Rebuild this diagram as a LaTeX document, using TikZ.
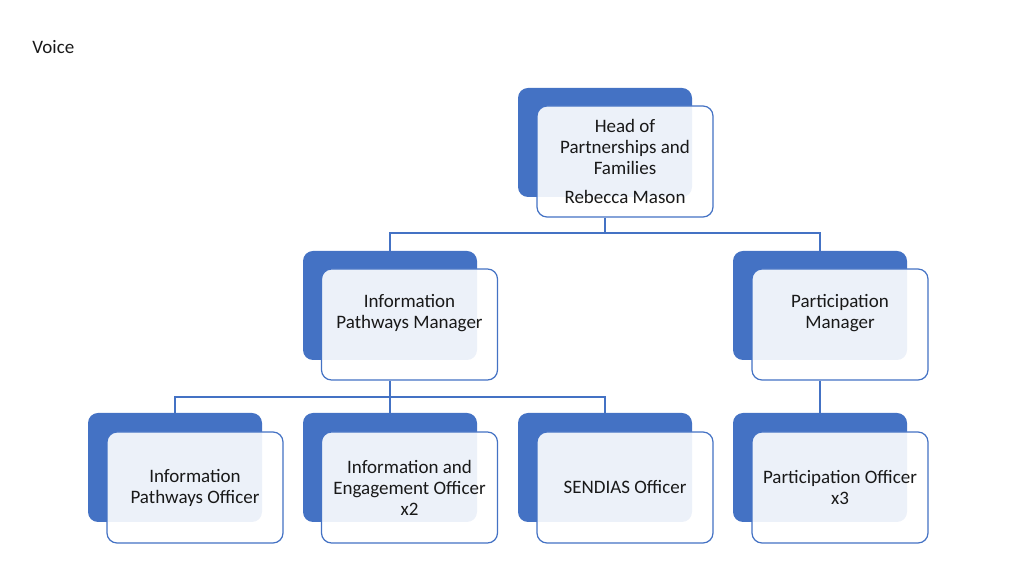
\documentclass[tikz,border=0pt]{standalone}
\usepackage{fontspec}
\setmainfont{Carlito}
\usepackage{xcolor}
\usetikzlibrary{positioning}
\definecolor{orgblue}{HTML}{4472C4}

\begin{document}
\begin{tikzpicture}[x=0.5pt, y=-0.5pt,
    every node/.style={font=\fontsize{9.5}{10.5}\selectfont},
    backbox/.style={fill=orgblue, rounded corners=5pt, minimum width=87pt, minimum height=54.5pt, inner sep=0pt},
    frontbox/.style={draw=orgblue, line width=0.6pt, fill=white, fill opacity=0.9, rounded corners=5pt, minimum width=88pt, minimum height=55.5pt, inner sep=0pt},
    boxtext/.style={align=center, text=black!90},
    link/.style={draw=orgblue, line width=0.6pt}]
    \useasboundingbox (0,0) rectangle (1024,576);

    \node[anchor=base west, text=black!90, inner sep=0pt] (title) at (32,54) {Voice};

    % top
    \node[backbox] (headB) at (605,142.5) {};
    \node[frontbox] (head) at (625,161.5) {};
    \node[boxtext] (headT) at (head.center) {Head of\\Partnerships and\\Families\\[4pt]Rebecca Mason};

    % second row
    \node[backbox] (ipmB) at (390,305.5) {};
    \node[frontbox] (ipm) at (409.5,324.5) {};
    \node[boxtext, yshift=5.5pt] (ipmT) at (ipm.center) {Information\\Pathways Manager};

    \node[backbox] (pmB) at (820,305.5) {};
    \node[frontbox] (pm) at (840,324.5) {};
    \node[boxtext, yshift=5.5pt] (pmT) at (pm.center) {Participation\\Manager};

    % third row
    \node[backbox] (ipoB) at (175,467.5) {};
    \node[frontbox] (ipo) at (195,487.5) {};
    \node[boxtext] (ipoT) at (ipo.center) {Information\\Pathways Officer};

    \node[backbox] (ieoB) at (390,467.5) {};
    \node[frontbox] (ieo) at (409.5,487.5) {};
    \node[boxtext] (ieoT) at (ieo.center) {Information and\\Engagement Officer\\x2};

    \node[backbox] (sendB) at (605,467.5) {};
    \node[frontbox] (send) at (625,487.5) {};
    \node[boxtext] (sendT) at (send.center) {SENDIAS Officer};

    \node[backbox] (poB) at (820,467.5) {};
    \node[frontbox] (po) at (840,487.5) {};
    \node[boxtext] (poT) at (po.center) {Participation Officer\\x3};

    % connectors
    \coordinate (j1) at (605,233);
    \coordinate (j2) at (390,397);
    \draw[link] (headB.south |- head.south) -- (j1) -| (ipmB.north);
    \draw[link] (j1) -| (pmB.north);
    \draw[link] (ipmB.south |- ipm.south) -- (j2) -| (ipoB.north);
    \draw[link] (j2) -| (ieoB.north);
    \draw[link] (j2) -| (sendB.north);
    \draw[link] (pmB.south |- pm.south) -- (poB.north);
  \end{tikzpicture}
\end{document}
